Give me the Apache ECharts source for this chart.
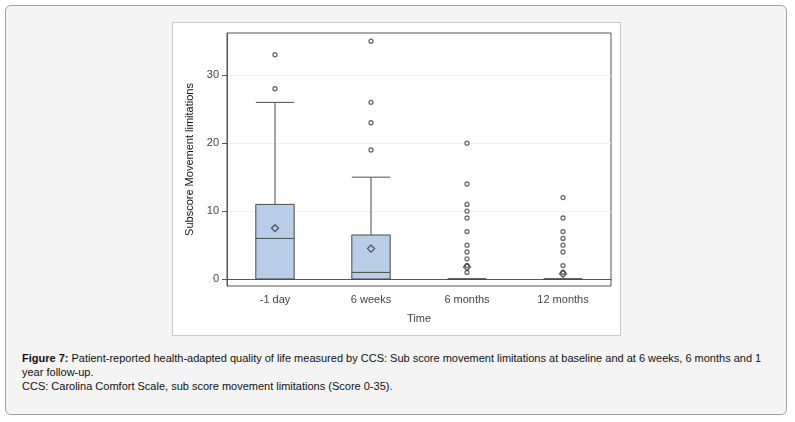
<!DOCTYPE html>
<html>
<head>
<meta charset="utf-8">
<script src="https://cdn.jsdelivr.net/npm/echarts@6/dist/echarts.min.js"></script>
<style>
  body { margin: 0; background: #fff; font-family: Arial, "Liberation Sans", sans-serif; }
  #panel { position: absolute; left: 5px; top: 5px; width: 780px; height: 408px; border: 1px solid #a0a0a0; border-radius: 6px; background: #f4f4f4; }
  #chartbox { position: absolute; left: 172px; top: 22px; width: 447px; height: 312px; background: #fff; border: 1px solid #c8c8c8; }
  #chart { width: 447px; height: 312px; }
  #caption { position: absolute; left: 22px; top: 351px; width: 748px; font-size: 11px; line-height: 14px; color: #111; }
</style>
</head>
<body>
<div id="panel"></div>
<div id="chartbox"><div id="chart"></div></div>
<div id="caption"><b>Figure 7:</b> Patient-reported health-adapted quality of life measured by CCS: Sub score movement limitations at baseline and at 6 weeks, 6 months and 1 year follow-up.<br>CCS: Carolina Comfort Scale, sub score movement limitations (Score 0-35).</div>
<script>
var categories = ['-1 day', '6 weeks', '6 months', '12 months'];
// [min, Q1, median, Q3, max]
var boxValues = [
  [0, 0, 6, 11, 26],
  [0, 0, 1, 6.5, 15],
  [0, 0, 0, 0, 0],
  [0, 0, 0, 0, 0]
];
var means = [7.5, 4.5, 1.8, 0.8];
var outliers = [
  [28, 33],
  [19, 23, 26, 35],
  [1, 2, 3, 4, 5, 7, 9, 10, 11, 14, 20],
  [1, 2, 4, 5, 6, 7, 9, 12]
];
var yTicks = [0, 10, 20, 30];

var outlierPts = [];
outliers.forEach(function (arr, i) {
  arr.forEach(function (v) { outlierPts.push([i, v]); });
});

var chart = echarts.init(document.getElementById('chart'));
chart.setOption({
  animation: false,
  grid: { left: 54, top: 10, width: 384, height: 253, show: true, borderColor: '#555', borderWidth: 1 },
  xAxis: {
    type: 'category', data: categories,
    name: 'Time', nameLocation: 'middle', nameGap: 27,
    nameTextStyle: { color: '#444', fontSize: 11 },
    axisLine: { lineStyle: { color: '#555' } },
    axisTick: { alignWithLabel: true, lineStyle: { color: '#555' } },
    axisLabel: { color: '#444', fontSize: 11, margin: 8 },
    splitLine: { show: false }
  },
  yAxis: {
    type: 'value', min: -1, max: 36.2,
    name: 'Subscore Movement limitations', nameLocation: 'middle', nameGap: 25,
    nameTextStyle: { color: '#111', fontSize: 11 },
    axisLine: { show: true, lineStyle: { color: '#555' } },
    axisTick: { show: true, customValues: yTicks, lineStyle: { color: '#555' } },
    axisLabel: { color: '#444', fontSize: 11, customValues: yTicks },
    splitLine: { show: true, lineStyle: { color: '#f2f2f2' } }
  },
  series: [
    {
      type: 'boxplot', data: boxValues, boxWidth: ['40%', '40%'],
      itemStyle: { color: '#b8cde6', borderColor: '#4a4a4a', borderWidth: 1 }
    },
    {
      type: 'scatter', data: outlierPts, symbol: 'circle', symbolSize: 4,
      itemStyle: { color: '#fff', borderColor: '#444', borderWidth: 1.3 }
    },
    {
      type: 'scatter', data: means.map(function (v, i) { return [i, v]; }),
      symbol: 'diamond', symbolSize: 7,
      itemStyle: { color: 'rgba(0,0,0,0)', borderColor: '#333', borderWidth: 1.3 }
    }
  ]
});
</script>
</body>
</html>
